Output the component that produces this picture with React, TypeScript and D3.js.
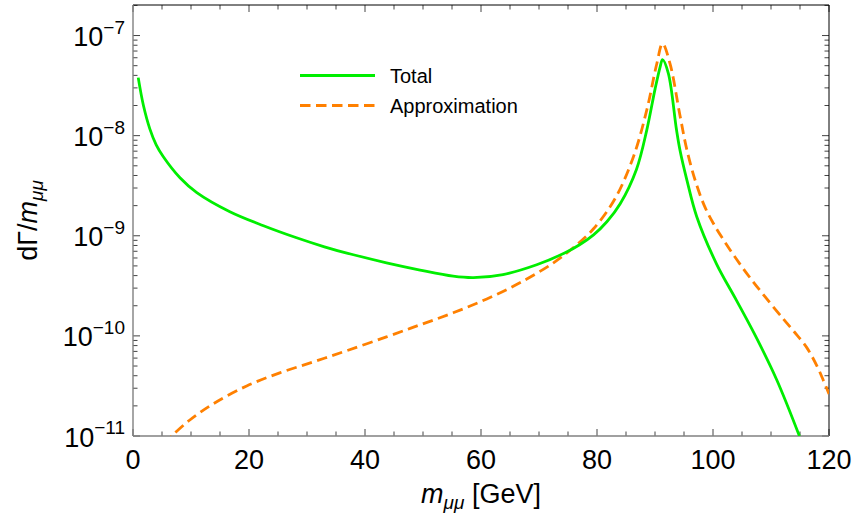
import React from "react";
import * as d3 from "d3";

// ---- data ----
const totalMass = [0.9, 1.8, 2.9, 4.0, 5.2, 8.1, 11, 16.7, 22.5, 28.2, 33, 38, 43.7, 49.5, 55.2, 58.7, 63.8, 69.6, 74.5, 77, 79.4, 81.7, 84, 86.8, 88.6, 90, 90.9, 91.3, 92.3, 93.7, 94.3, 95.5, 97.2, 100.6, 104, 107.5, 111, 114.9];
const totalValue = [3.8e-8, 2.0e-8, 1.17e-8, 8.1e-9, 6.2e-9, 3.8e-9, 2.7e-9, 1.74e-9, 1.26e-9, 9.55e-10, 7.76e-10, 6.46e-10, 5.37e-10, 4.55e-10, 3.95e-10, 3.82e-10, 4.1e-10, 5.13e-10, 6.76e-10, 8.13e-10, 1.02e-9, 1.38e-9, 2.09e-9, 4.6e-9, 1.15e-8, 2.9e-8, 4.9e-8, 5.75e-8, 4.2e-8, 1.15e-8, 7.2e-9, 3.6e-9, 1.55e-9, 5.25e-10, 2.29e-10, 9.55e-11, 3.63e-11, 1.0e-11];

const approxMass = [5.5, 6.7, 9.8, 13.8, 19.6, 25.3, 31.1, 36.8, 43.7, 49.5, 55.2, 61, 66.7, 72.5, 75.9, 79.4, 83.1, 86.3, 88.6, 90.3, 91.3, 92.6, 94.3, 95.5, 97.0, 98.5, 100.0, 101.8, 104, 106.4, 109, 112.1, 114, 116.2, 118, 119, 120];
const approxValue = [8.3e-12, 1.0e-11, 1.445e-11, 2.09e-11, 3.16e-11, 4.27e-11, 5.5e-11, 7.1e-11, 9.77e-11, 1.29e-10, 1.7e-10, 2.34e-10, 3.39e-10, 5.37e-10, 7.59e-10, 1.175e-9, 2.34e-9, 6.2e-9, 1.82e-8, 5.2e-8, 8.3e-8, 5.2e-8, 1.6e-8, 7.2e-9, 3.47e-9, 2.0e-9, 1.35e-9, 9.12e-10, 5.89e-10, 3.8e-10, 2.45e-10, 1.48e-10, 1.1e-10, 7.59e-11, 4.9e-11, 3.63e-11, 2.63e-11];

const xMajorTicks = [0, 20, 40, 60, 80, 100, 120];
const yMajorExponents = [-11, -10, -9, -8, -7];
const seriesNames = ["Total", "Approximation"];

const W = 857;
const H = 526;
const L = 133, R = 829, T = 5, B = 436;
const FONT = "'Liberation Sans', Arial, Helvetica, sans-serif";
const GREEN = "#00ee00";
const ORANGE = "#ff8000";

export default function App() {
  const x = d3.scaleLinear().domain([0, 120]).range([L, R]);
  const y = d3.scaleLog().domain([1e-11, Math.pow(10, -6.695)]).range([B, T]);

  const line = d3
    .line<[number, number]>()
    .x((d) => x(d[0]))
    .y((d) => y(d[1]))
    .curve(d3.curveCatmullRom.alpha(0.5));

  const totalPts = totalMass.map((m, i) => [m, totalValue[i]] as [number, number]);
  const approxPts = approxMass.map((m, i) => [m, approxValue[i]] as [number, number]);

  const xMinor = d3.range(0, 121, 5).filter((v) => v % 20 !== 0);
  const yMinor: number[] = [];
  for (let e = -11; e <= -7; e++) {
    for (let k = 2; k <= 9; k++) {
      const v = k * Math.pow(10, e);
      if (v <= Math.pow(10, -6.695)) yMinor.push(v);
    }
  }
  const yMajor = yMajorExponents.map((e) => Math.pow(10, e));

  const MAJ = 7, MIN = 4.5;
  const tickColor = "#444";

  return (
    <svg width={W} height={H} style={{ position: "absolute", left: 0, top: 0, background: "#fff" }} fontFamily={FONT}>
      <defs>
        <clipPath id="plotclip">
          <rect x={L} y={T} width={R - L} height={B - T} />
        </clipPath>
      </defs>

      {/* ticks */}
      <g stroke={tickColor} strokeWidth={1}>
        {xMajorTicks.map((v) => (
          <g key={"xm" + v}>
            <line x1={x(v)} x2={x(v)} y1={B} y2={B - MAJ} />
            <line x1={x(v)} x2={x(v)} y1={T} y2={T + MAJ} />
          </g>
        ))}
        {xMinor.map((v) => (
          <g key={"xn" + v}>
            <line x1={x(v)} x2={x(v)} y1={B} y2={B - MIN} />
            <line x1={x(v)} x2={x(v)} y1={T} y2={T + MIN} />
          </g>
        ))}
        {yMajor.map((v, i) => (
          <g key={"ym" + i}>
            <line x1={L} x2={L + MAJ} y1={y(v)} y2={y(v)} />
            <line x1={R} x2={R - MAJ} y1={y(v)} y2={y(v)} />
          </g>
        ))}
        {yMinor.map((v, i) => (
          <g key={"yn" + i}>
            <line x1={L} x2={L + MIN} y1={y(v)} y2={y(v)} />
            <line x1={R} x2={R - MIN} y1={y(v)} y2={y(v)} />
          </g>
        ))}
      </g>

      {/* frame */}
      <line x1={L} x2={R} y1={T} y2={T} stroke="#000" strokeWidth={1} />
      <line x1={R} x2={R} y1={T} y2={B} stroke="#000" strokeWidth={1} />
      <line x1={L} x2={L} y1={T} y2={B} stroke="#808080" strokeWidth={1.4} />
      <line x1={L} x2={R} y1={B} y2={B} stroke="#808080" strokeWidth={1.4} />

      {/* curves */}
      <g clipPath="url(#plotclip)" fill="none">
        <path d={line(approxPts) || ""} stroke={ORANGE} strokeWidth={2.8} strokeDasharray="10.5,5.5" />
        <path d={line(totalPts) || ""} stroke={GREEN} strokeWidth={2.8} />
      </g>

      {/* x tick labels */}
      {xMajorTicks.map((v) => (
        <text key={"xl" + v} x={x(v)} y={469} textAnchor="middle" fontSize={27} fill="#000">
          {v}
        </text>
      ))}

      {/* y tick labels */}
      {yMajorExponents.map((e) => (
        <text key={"yl" + e} x={125} y={y(Math.pow(10, e)) + 10.5} textAnchor="end" fontSize={27} fill="#000">
          <tspan>10</tspan>
          <tspan dy={-12.5} fontSize={19}>{"\u2212" + Math.abs(e)}</tspan>
        </text>
      ))}

      {/* axis labels */}
      <text x={481} y={503} textAnchor="middle" fontSize={27} fill="#000">
        <tspan fontStyle="italic">m</tspan>
        <tspan fontStyle="italic" fontSize={19} dy={6}>{"\u03bc\u03bc"}</tspan>
        <tspan dy={-6}>{" [GeV]"}</tspan>
      </text>
      <text transform={`translate(37,${(T + B) / 2}) rotate(-90)`} textAnchor="middle" fontSize={27} fill="#000">
        <tspan>{"d\u0393/"}</tspan>
        <tspan fontStyle="italic">m</tspan>
        <tspan fontStyle="italic" fontSize={19} dy={6}>{"\u03bc\u03bc"}</tspan>
      </text>

      {/* legend */}
      <line x1={300} x2={375} y1={75.5} y2={75.5} stroke={GREEN} strokeWidth={2.8} />
      <text x={390} y={83} fontSize={20} fill="#000">{seriesNames[0]}</text>
      <line x1={300} x2={375} y1={105.5} y2={105.5} stroke={ORANGE} strokeWidth={2.8} strokeDasharray="10.5,5.5" />
      <text x={390} y={112.5} fontSize={20} fill="#000">{seriesNames[1]}</text>
    </svg>
  );
}
